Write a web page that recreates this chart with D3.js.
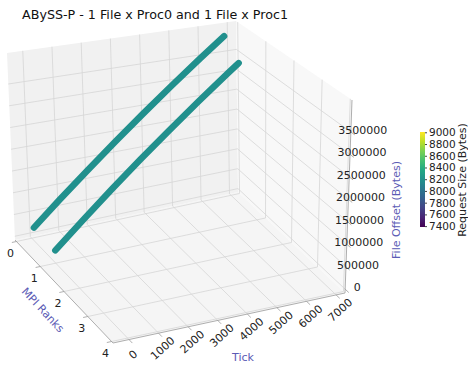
<!DOCTYPE html>
<html>
<head>
<meta charset="utf-8">
<script src="https://cdn.jsdelivr.net/npm/d3@7"></script>
<style>
  html, body { margin: 0; padding: 0; background: #fff; }
  svg { display: block; font-family: "DejaVu Sans", sans-serif; }
</style>
</head>
<body>
<div id="chart"></div>
<script>
// ---- data ----
var title = 'ABySS-P - 1 File x Proc0 and 1 File x Proc1';
var tickValues = [0, 1000, 2000, 3000, 4000, 5000, 6000, 7000];
var rankValues = [0, 1, 2, 3, 4];
var offsetValues = [0, 500000, 1000000, 1500000, 2000000, 2500000, 3000000, 3500000];
var sizeValues = [7400, 7600, 7800, 8000, 8200, 8400, 8600, 8800, 9000];

var proc0Rank = 0;
var proc0Ticks = [90, 1000, 2000, 3000, 4000, 5000, 6000, 6830];
var proc0Offsets = [146000, 655000, 1213000, 1772000, 2330000, 2889000, 3447000, 3910000];
var proc0Size = 8192;

var proc1Rank = 1;
var proc1Ticks = [0, 1000, 2000, 3000, 4000, 5000, 6000, 6380];
var proc1Offsets = [200000, 761000, 1322000, 1883000, 2444000, 3005000, 3566000, 3780000];
var proc1Size = 8192;

var W = 468, H = 372;
var svg = d3.select('#chart').append('svg').attr('width', W).attr('height', H);

// ---- 3d box: data -> unit cube -> screen (corners of the box on screen) ----
var xS = d3.scaleLinear().domain([-540, 7300]).range([0, 1]);
var yS = d3.scaleLinear().domain([-0.06, 4.06]).range([0, 1]);
var zS = d3.scaleLinear().domain([-86000, 4213000]).range([0, 1]);

var C = {
  L0: [15, 240], B0: [238, 192], R0: [345, 293], F0: [113, 343],
  L1: [7, 53],   B1: [236, 21],  R1: [352, 100], F1: [110, 133]
};
function lerp(a, b, t) { return [a[0] + (b[0] - a[0]) * t, a[1] + (b[1] - a[1]) * t]; }
function cube(u, v, w) {
  var bot = lerp(lerp(C.L0, C.B0, u), lerp(C.F0, C.R0, u), v);
  var top = lerp(lerp(C.L1, C.B1, u), lerp(C.F1, C.R1, u), v);
  return lerp(bot, top, w);
}
function P(t, r, z) { return cube(xS(t), yS(r), zS(z)); }

var line = d3.line();

// panes
function pane(pts, fill) {
  svg.append('path').attr('d', line(pts) + 'Z').attr('fill', fill).attr('stroke', 'none');
}
pane([cube(0, 0, 0), cube(1, 0, 0), cube(1, 1, 0), cube(0, 1, 0)], '#f5f5f5'); // floor
pane([cube(0, 0, 0), cube(1, 0, 0), cube(1, 0, 1), cube(0, 0, 1)], '#f1f1f1'); // back left
pane([cube(1, 0, 0), cube(1, 1, 0), cube(1, 1, 1), cube(1, 0, 1)], '#f8f8f8'); // back right

// grid lines
var grid = svg.append('g').attr('fill', 'none').attr('stroke', '#d6d6d6').attr('stroke-width', 0.8);
function seg(a, b) { grid.append('path').attr('d', line([a, b])); }
tickValues.forEach(function(t) {
  var u = xS(t);
  seg(cube(u, 0, 0), cube(u, 1, 0));
  seg(cube(u, 0, 0), cube(u, 0, 1));
});
rankValues.forEach(function(r) {
  var v = yS(r);
  seg(cube(0, v, 0), cube(1, v, 0));
  seg(cube(1, v, 0), cube(1, v, 1));
});
offsetValues.forEach(function(z) {
  var w = zS(z);
  seg(cube(0, 0, w), cube(1, 0, w));
  seg(cube(1, 0, w), cube(1, 1, w));
});

// axis lines
var axes = svg.append('g').attr('fill', 'none').attr('stroke', '#9a9a9a').attr('stroke-width', 0.8);
axes.append('path').attr('d', line([cube(0, 1, 0), cube(1, 1, 0)]));
axes.append('path').attr('d', line([cube(0, 0, 0), cube(0, 1, 0)]));
axes.append('path').attr('d', line([cube(1, 1, 0), cube(1, 1, 1)]));

// small tick marks
tickValues.forEach(function(t) {
  axes.append('path').attr('d', line([P(t, 4.06, -86000), P(t, 4.2, -86000)]));
});
rankValues.forEach(function(r) {
  axes.append('path').attr('d', line([P(-540, r, -86000), P(-700, r, -86000)]));
});
offsetValues.forEach(function(z) {
  axes.append('path').attr('d', line([P(7300, 4.06, z), P(7300, 4.2, z)]));
});

// tick labels
var lab = svg.append('g').attr('font-size', 11).attr('fill', '#222');
tickValues.forEach(function(t) {
  var p = P(t, 4.06, -86000);
  lab.append('text')
    .attr('transform', 'translate(' + (p[0] + 4) + ',' + (p[1] + 15) + ') rotate(-42)')
    .attr('text-anchor', 'middle').attr('dy', '0.35em').text(t);
});
rankValues.forEach(function(r) {
  var p = P(-540, r, -86000);
  lab.append('text').attr('x', p[0] - 6).attr('y', p[1] + 12)
    .attr('text-anchor', 'middle').attr('dy', '0.35em').text(r);
});
offsetValues.forEach(function(z) {
  var p = P(7300, 4.06, z);
  lab.append('text').attr('x', p[0] + 12).attr('y', p[1] - 2)
    .attr('text-anchor', 'middle').attr('dy', '0.35em').text(z);
});

// axis labels
var axisColor = '#5b5bb5';
svg.append('text').attr('x', 243).attr('y', 357).attr('dy', '0.35em')
  .attr('text-anchor', 'middle').attr('font-size', 11).attr('fill', axisColor).text('Tick');
svg.append('text').attr('transform', 'translate(43,310) rotate(47)').attr('dy', '0.35em')
  .attr('text-anchor', 'middle').attr('font-size', 11).attr('fill', axisColor).text('MPI Ranks');
svg.append('text').attr('transform', 'translate(396,210) rotate(-90)').attr('dy', '0.35em')
  .attr('text-anchor', 'middle').attr('font-size', 11).attr('fill', axisColor).text('File Offset (Bytes)');

// data
var cbDomain = [7385, 9005];
var color = d3.scaleSequential(d3.interpolateViridis).domain(cbDomain);
function drawSeries(ticks, offsets, rank, size) {
  var pts = ticks.map(function(t, i) { return P(t, rank, offsets[i]); });
  svg.append('path').attr('d', line(pts)).attr('fill', 'none')
    .attr('stroke', color(size)).attr('stroke-width', 6.5)
    .attr('stroke-linecap', 'round').attr('stroke-linejoin', 'round');
}
drawSeries(proc0Ticks, proc0Offsets, proc0Rank, proc0Size);
drawSeries(proc1Ticks, proc1Offsets, proc1Rank, proc1Size);

// title
svg.append('text').attr('x', 22).attr('y', 19).attr('font-size', 12.7).attr('fill', '#111').text(title);

// colorbar
var cbX = 420, cbTop = 132, cbBot = 227, cbW = 5;
var defs = svg.append('defs');
var grad = defs.append('linearGradient').attr('id', 'cb-grad')
  .attr('x1', '0%').attr('y1', '100%').attr('x2', '0%').attr('y2', '0%');
d3.range(0, 1.0001, 0.1).forEach(function(s) {
  grad.append('stop').attr('offset', (s * 100) + '%').attr('stop-color', d3.interpolateViridis(s));
});
svg.append('rect').attr('x', cbX).attr('y', cbTop).attr('width', cbW).attr('height', cbBot - cbTop)
  .attr('fill', 'url(#cb-grad)');
var cbScale = d3.scaleLinear().domain(cbDomain).range([cbBot, cbTop]);
var cbAxis = svg.append('g').attr('transform', 'translate(' + (cbX + cbW) + ',0)')
  .call(d3.axisRight(cbScale).tickValues(sizeValues).tickFormat(d3.format('d')).tickSize(2).tickPadding(2));
cbAxis.select('.domain').remove();
cbAxis.selectAll('text').attr('font-size', 10.5).attr('fill', '#222').attr('font-family', '"DejaVu Sans", sans-serif');
cbAxis.selectAll('.tick line').attr('stroke', '#444');
svg.append('text').attr('transform', 'translate(462,180) rotate(-90)').attr('dy', '0.35em')
  .attr('text-anchor', 'middle').attr('font-size', 11).attr('fill', '#222').text('Request Size (Bytes)');
</script>
</body>
</html>
